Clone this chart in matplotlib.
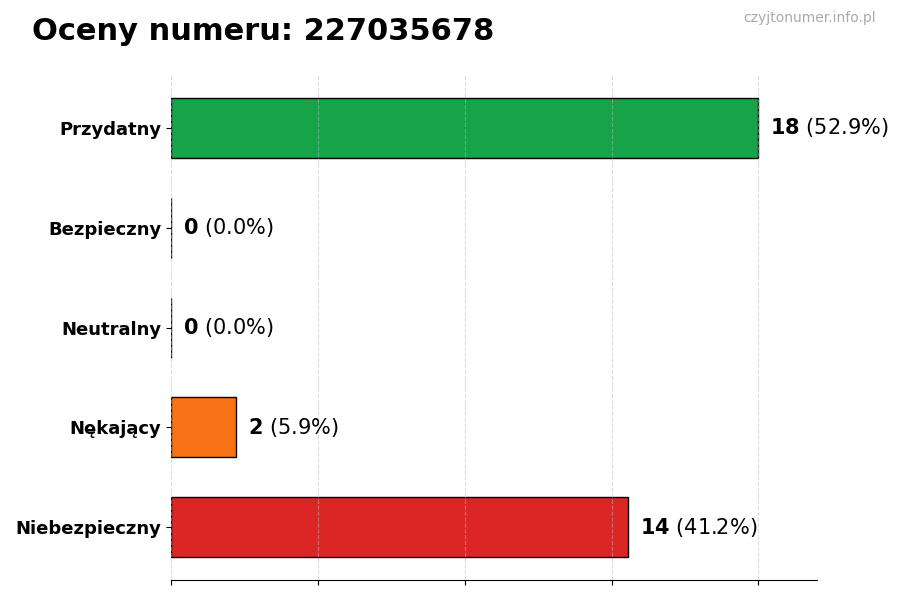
import numpy as np
import matplotlib.pyplot as plt

categories = ['Przydatny', 'Bezpieczny', 'Neutralny', 'Nękający', 'Niebezpieczny']
counts = [18, 0, 0, 2, 14]
colors = ['#16a34a', '#6b7280', '#9ca3af', '#f97316', '#dc2626']
phone = '227035678'

total = sum(counts)
pcts = [c / total * 100 for c in counts]

fig = plt.figure(figsize=(9, 6), dpi=100)
ax = fig.add_axes([0.19, 0.033, 0.718, 0.842])

y = np.arange(len(categories))[::-1]
ax.barh(y, counts, height=0.6, color=colors, edgecolor='black', linewidth=1)

xmax = max(counts) * 1.1
ax.set_xlim(0, xmax)
ax.set_xticks(np.linspace(0, max(counts), 5))
ax.set_xticklabels([])
ax.set_yticks(y)
ax.set_yticklabels(categories, fontsize=13, fontweight='bold')

for yi, c, p in zip(y, counts, pcts):
    ax.annotate(f'$\\bf{{{c}}}$ ({p:.1f}%)', (c, yi), xytext=(8.5, 0),
                textcoords='offset points', va='center', ha='left', fontsize=15)

ax.grid(axis='x', linestyle='--', alpha=0.5, color='#bbbbbb')
ax.set_axisbelow(False)
for s in ['top', 'right', 'left']:
    ax.spines[s].set_visible(False)

fig.text(0.035, 0.947, f'Oceny numeru: {phone}', fontsize=22, fontweight='bold', va='center')
fig.text(0.973, 0.97, 'czyjtonumer.info.pl', fontsize=10, color='#aaaaaa', ha='right', va='center')

fig.savefig('out.png', dpi=100)
